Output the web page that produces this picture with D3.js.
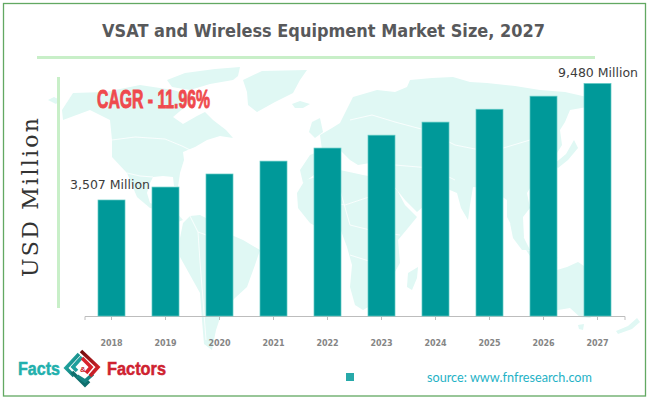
<!DOCTYPE html>
<html>
<head>
<meta charset="utf-8">
<script src="https://cdn.jsdelivr.net/npm/d3@7"></script>
<style>
  html, body { margin: 0; padding: 0; background: #fff; }
  svg { display: block; }
</style>
</head>
<body>
<div id="chart"></div>
<script>
var years = ["2018", "2019", "2020", "2021", "2022", "2023", "2024", "2025", "2026", "2027"];
var marketSize = [3507, 4170, 4840, 5500, 6170, 6830, 7500, 8160, 8830, 9480];
var firstLabel = "3,507 Million";
var lastLabel = "9,480 Million";

var svgWidth = 650;
var svgHeight = 400;
var axisY = 316;

var svg = d3.select("#chart")
  .append("svg")
  .attr("width", svgWidth)
  .attr("height", svgHeight);

// gradients for the logo
var defs = svg.append("defs");
function addGradient(id, c1, c2) {
  var g = defs.append("linearGradient").attr("id", id)
    .attr("x1", "0%").attr("y1", "0%").attr("x2", "100%").attr("y2", "100%");
  g.append("stop").attr("offset", "0%").attr("stop-color", c1);
  g.append("stop").attr("offset", "100%").attr("stop-color", c2);
}
addGradient("logoRed", "#6e0b0b", "#e0252e");
addGradient("logoTeal", "#28b5b0", "#0c6f6c");

// frame
svg.append("rect")
  .attr("x", 3.5).attr("y", 3.5)
  .attr("width", 642).attr("height", 392.5)
  .attr("fill", "#fff")
  .attr("stroke", "#62a862")
  .attr("stroke-width", 1.3);

// world map backdrop
var mapShapes = [
  // north america
  [[62,110],[73,93],[105,92],[140,85],[173,90],[197,97],[186,106],[173,117],[183,124],[197,116],[205,112],[213,120],[226,130],[233,138],[220,136],[207,140],[195,147],[183,152],[184,160],[180,173],[178,187],[174,186],[173,177],[163,176],[153,177],[150,183],[147,193],[150,203],[158,206],[166,201],[172,208],[183,220],[178,222],[166,212],[150,208],[137,197],[127,173],[112,157],[112,140],[110,120],[90,110],[63,120]],
  // arctic islands
  [[167,80],[185,73],[215,69],[240,67],[238,76],[233,80],[210,84],[190,90],[172,87]],
  // greenland
  [[243,80],[262,71],[307,70],[300,80],[293,93],[275,102],[257,112],[248,105],[247,92]],
  // alaska tip and iceland
  [[48,100],[54,97],[60,100],[56,104]],
  [[292,104],[300,101],[310,104],[303,108],[295,108]],
  // south america
  [[183,223],[190,216],[200,215],[214,222],[227,233],[243,240],[260,250],[255,265],[247,287],[235,298],[222,312],[216,330],[212,350],[204,344],[202,320],[200,293],[190,275],[180,257],[180,238]],
  // africa
  [[297,193],[305,180],[317,177],[340,170],[363,175],[380,178],[397,190],[405,205],[417,217],[408,228],[398,240],[400,263],[392,277],[383,290],[372,305],[363,310],[355,305],[350,287],[352,265],[347,247],[340,228],[322,230],[310,223],[298,208]],
  // madagascar
  [[418,267],[417,278],[412,290],[407,287],[408,273]],
  // eurasia
  [[340,123],[353,97],[377,90],[395,92],[407,87],[410,80],[432,78],[453,77],[470,82],[487,83],[515,86],[540,90],[565,92],[587,97],[587,107],[570,110],[565,122],[560,130],[562,145],[557,153],[549,165],[540,173],[532,185],[527,193],[530,208],[523,217],[524,238],[515,232],[507,217],[507,200],[495,192],[484,188],[473,187],[470,205],[468,220],[461,208],[457,193],[445,188],[427,193],[425,205],[417,212],[405,200],[397,190],[388,178],[380,168],[370,163],[358,165],[350,160],[340,150],[325,160],[318,172],[303,183],[300,170],[310,155],[322,150],[320,135],[332,128]],
  // british isles
  [[312,122],[320,118],[323,132],[315,138],[309,132]],
  // japan
  [[574,140],[578,148],[568,160],[558,168],[554,164],[566,154]],
  // indonesia
  [[510,223],[524,238],[530,250],[522,250],[513,238]],
  [[526,250],[545,253],[558,258],[548,260],[530,256]],
  [[536,228],[550,225],[556,238],[545,247],[536,243]],
  // australia
  [[557,270],[567,267],[578,262],[590,270],[600,284],[604,300],[600,310],[590,318],[580,317],[570,308],[558,310],[545,312],[545,290]],
  // tasmania and new zealand
  [[578,325],[584,324],[583,330],[579,329]],
  [[637,318],[640,322],[632,329],[618,334],[616,331],[628,326]]
];

// a few of the white country borders
var mapBorders = [
  [[112,140],[135,137],[165,139],[182,146],[190,150]],
  [[127,173],[140,176],[153,177]],
  [[190,216],[198,232],[200,262],[203,300],[206,340]],
  [[198,232],[220,240],[232,258]],
  [[350,120],[372,115],[395,122],[425,130],[455,145],[490,152],[530,140],[552,132]],
  [[370,163],[395,165],[430,168],[455,180]],
  [[340,190],[350,225],[378,232],[400,235]],
  [[350,255],[372,262],[392,260]],
  [[318,200],[345,205],[375,195]]
];

var mapLine = d3.line();

svg.append("g")
  .selectAll("path")
  .data(mapShapes)
  .enter()
  .append("path")
  .attr("d", d => mapLine(d) + "Z")
  .attr("fill", "#e0f8f4");

svg.append("g")
  .selectAll("path")
  .data(mapBorders)
  .enter()
  .append("path")
  .attr("d", mapLine)
  .attr("fill", "none")
  .attr("stroke", "#fff")
  .attr("stroke-width", 0.8);

// title and rules
svg.append("text")
  .attr("x", 323.5)
  .attr("y", 37)
  .attr("text-anchor", "middle")
  .attr("textLength", 443)
  .attr("lengthAdjust", "spacingAndGlyphs")
  .attr("font-family", "'DejaVu Sans', sans-serif")
  .attr("font-weight", 700)
  .attr("font-size", 18)
  .attr("fill", "#58595b")
  .text("VSAT and Wireless Equipment Market Size, 2027");

svg.append("rect")
  .attr("x", 37).attr("y", 56)
  .attr("width", 558).attr("height", 3)
  .attr("fill", "#c8efc8");

svg.append("rect")
  .attr("x", 57).attr("y", 77)
  .attr("width", 3).attr("height", 231)
  .attr("fill", "#c8efc8");

// scales: the two labelled bars fix the value scale, the baseline is below zero in the original
var xScale = d3.scaleBand()
  .domain(years)
  .range([84.5, 624.5])
  .paddingInner(0.5)
  .paddingOuter(0.25);

var yScale = d3.scaleLinear()
  .domain([3507, 9480])
  .range([200, 83.5]);

var bottomAxis = d3.axisBottom(xScale).tickSize(4).tickPadding(20);

var xAxisGroup = svg.append("g")
  .attr("transform", `translate(0, ${axisY})`)
  .call(bottomAxis);

xAxisGroup.select(".domain").attr("stroke", "#bdbdbd").attr("stroke-width", 1);
xAxisGroup.selectAll(".tick line").attr("stroke", "#bdbdbd");
xAxisGroup.selectAll(".tick text")
  .attr("font-family", "'DejaVu Sans', sans-serif")
  .attr("font-weight", 700)
  .attr("font-size", 8)
  .attr("fill", "#858585");

svg.append("g")
  .selectAll("rect")
  .data(marketSize)
  .enter()
  .append("rect")
  .attr("x", (d, i) => xScale(years[i]))
  .attr("y", d => yScale(d))
  .attr("width", xScale.bandwidth())
  .attr("height", d => axisY - yScale(d))
  .attr("fill", "#009999")
  .attr("stroke", "#5fc9c4")
  .attr("stroke-width", 0.7);

// value labels on first and last bar
function valueLabel(text, x, y) {
  svg.append("text")
    .attr("x", x)
    .attr("y", y)
    .attr("textLength", 80)
    .attr("lengthAdjust", "spacingAndGlyphs")
    .attr("font-family", "'DejaVu Sans', sans-serif")
    .attr("font-size", 12.5)
    .attr("fill", "#3c3c3c")
    .text(text);
}
valueLabel(firstLabel, 70, yScale(marketSize[0]) - 11);
valueLabel(lastLabel, 558, yScale(marketSize[9]) - 7);

// y axis title
svg.append("text")
  .attr("transform", "translate(38, 277) rotate(-90)")
  .attr("textLength", 159)
  .attr("font-family", "'DejaVu Serif', serif")
  .attr("font-size", 22)
  .attr("fill", "#333")
  .text("USD Million");

// cagr callout
svg.append("text")
  .attr("x", 97)
  .attr("y", 108)
  .attr("textLength", 113)
  .attr("lengthAdjust", "spacingAndGlyphs")
  .attr("font-family", "'Liberation Sans Narrow', 'Liberation Sans', sans-serif")
  .attr("font-weight", 700)
  .attr("font-size", 25)
  .attr("fill", "#ef4a4d")
  .attr("stroke", "#ef4a4d")
  .attr("stroke-width", 0.9)
  .text("CAGR - 11.96%");

// legend marker and source
svg.append("rect")
  .attr("x", 346).attr("y", 373)
  .attr("width", 8).attr("height", 8)
  .attr("fill", "#27a9a9");

svg.append("text")
  .attr("x", 427)
  .attr("y", 382)
  .attr("textLength", 165)
  .attr("lengthAdjust", "spacingAndGlyphs")
  .attr("font-family", "Lato, sans-serif")
  .attr("font-size", 13)
  .attr("fill", "#1fb2c6")
  .text("source: www.fnfresearch.com");

// logo
svg.append("text")
  .attr("x", 18).attr("y", 375)
  .attr("textLength", 42)
  .attr("lengthAdjust", "spacingAndGlyphs")
  .attr("font-family", "'Liberation Sans Narrow', 'Liberation Sans', sans-serif")
  .attr("font-weight", 700)
  .attr("font-size", 18)
  .attr("fill", "#22b0ad")
  .attr("stroke", "#22b0ad")
  .attr("stroke-width", 0.5)
  .text("Facts");

svg.append("text")
  .attr("x", 107).attr("y", 375)
  .attr("textLength", 59)
  .attr("lengthAdjust", "spacingAndGlyphs")
  .attr("font-family", "'Liberation Sans Narrow', 'Liberation Sans', sans-serif")
  .attr("font-weight", 700)
  .attr("font-size", 18)
  .attr("fill", "#cf2230")
  .attr("stroke", "#cf2230")
  .attr("stroke-width", 0.5)
  .text("Factors");

var logoStrokes = [
  { pts: [[79,354],[66,368],[74,376]], color: "url(#logoTeal)" },
  { pts: [[82,357],[73,367],[77,371]], color: "#1f9f9c" },
  { pts: [[72,372],[85,385],[89,381]], color: "#0f6f6d" },
  { pts: [[77,376],[85,381],[93,374]], color: "#158381" },
  { pts: [[81,351],[98,367],[90,376]], color: "url(#logoRed)" },
  { pts: [[82,358],[91,367],[86,373]], color: "#d8232c" }
];

svg.append("g")
  .selectAll("path")
  .data(logoStrokes)
  .enter()
  .append("path")
  .attr("d", d => mapLine(d.pts))
  .attr("fill", "none")
  .attr("stroke", d => d.color)
  .attr("stroke-width", 3.6);

svg.append("text")
  .attr("x", 83).attr("y", 371.5)
  .attr("text-anchor", "middle")
  .attr("font-family", "'Liberation Sans', sans-serif")
  .attr("font-weight", 700)
  .attr("font-size", 8)
  .attr("fill", "#c8202c")
  .text("&");
</script>
</body>
</html>
